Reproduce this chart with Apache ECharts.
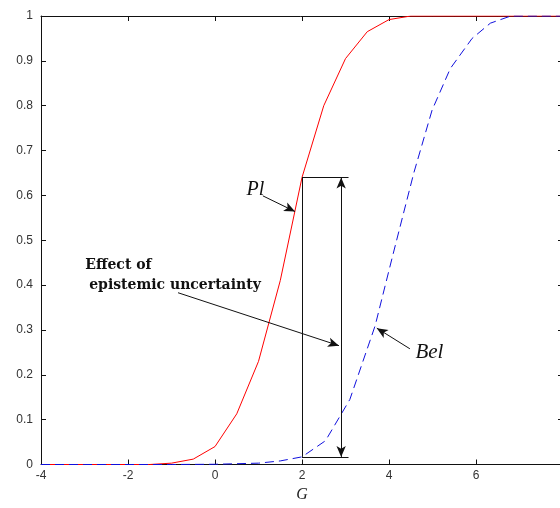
<!DOCTYPE html>
<html>
<head>
<meta charset="utf-8">
<script src="https://cdn.jsdelivr.net/npm/echarts@6/dist/echarts.min.js"></script>
<style>
  html, body { margin: 0; padding: 0; background: #fff; }
  #chart { width: 560px; height: 508px; }
</style>
</head>
<body>
<div id="chart"></div>
<script>
// Plausibility (Pl) curve
const plX = [-4, -3.5, -3, -2.5, -2, -1.5, -1, -0.5, 0, 0.5, 1, 1.5, 2, 2.5, 3, 3.5, 4, 4.5, 5, 5.5, 6, 6.5, 7, 7.5, 8];
const plY = [0, 0, 0, 0, 0, 0, 0.003, 0.012, 0.04, 0.113, 0.23, 0.41, 0.64, 0.80, 0.905, 0.965, 0.992, 1, 1, 1, 1, 1, 1, 1, 1];

// Belief (Bel) curve
const belX = [-4, -3, -2, -1, 0, 1, 1.5, 2, 2.54, 3.1, 3.68, 4.07, 4.57, 4.99, 5.41, 5.91, 6.33, 6.8, 7.5, 8];
const belY = [0, 0, 0, 0, 0.0005, 0.003, 0.008, 0.017, 0.053, 0.145, 0.309, 0.46, 0.65, 0.79, 0.883, 0.95, 0.984, 1, 1, 1];

// Axis ticks
const xTicks = [-4, -2, 0, 2, 4, 6, 8];
const yTicks = [0, 0.1, 0.2, 0.3, 0.4, 0.5, 0.6, 0.7, 0.8, 0.9, 1];

// Uncertainty bracket at G = 2
const gapX = 2;
const gapTop = 0.64;
const gapBottom = 0.017;
const gapArrowX = 2.9;
const gapEndX = 3.07;

// Annotation arrows: [fromX, fromY, toX, toY]
const plArrow = [1.10, 0.599, 1.84, 0.564];
const effectArrow = [-0.85, 0.383, 2.85, 0.265];
const belArrow = [4.48, 0.258, 3.72, 0.304];

const pairs = (xs, ys) => xs.map((x, i) => [x, ys[i]]);

const chart = echarts.init(document.getElementById('chart'), null, { renderer: 'canvas' });

const axisCommon = {
  type: 'value',
  axisLine: { show: true, onZero: false, lineStyle: { color: '#111', width: 1 } },
  axisTick: { show: true, inside: true, length: 5, lineStyle: { color: '#111' } },
  splitLine: { show: false },
  axisLabel: { color: '#333', fontFamily: 'Liberation Sans, Arial, sans-serif', fontSize: 12 }
};

const segment = (a, b, sym0, sym1) => [
  { coord: a, symbol: sym0 },
  { coord: b, symbol: sym1 }
];

chart.setOption({
  animation: false,
  backgroundColor: '#fff',
  grid: { left: 41, top: 16, width: 522, height: 448.5, outerBoundsMode: 'none', containLabel: false },
  xAxis: [
    Object.assign({}, axisCommon, {
      position: 'bottom', min: -4, max: 8, interval: 2,
      axisLabel: Object.assign({}, axisCommon.axisLabel, { margin: 5 }),
      name: 'G', nameLocation: 'middle', nameGap: 22,
      nameTextStyle: { fontFamily: 'Liberation Serif, Times New Roman, serif', fontStyle: 'italic', fontSize: 16, color: '#222' }
    }),
    Object.assign({}, axisCommon, {
      position: 'top', min: -4, max: 8, interval: 2, axisLabel: { show: false }
    })
  ],
  yAxis: [
    Object.assign({}, axisCommon, {
      position: 'left', min: 0, max: 1, interval: 0.1,
      axisLabel: Object.assign({}, axisCommon.axisLabel, {
        margin: 8,
        formatter: v => String(Math.round(v * 10) / 10)
      })
    }),
    Object.assign({}, axisCommon, {
      position: 'right', min: 0, max: 1, interval: 0.1, axisLabel: { show: false }
    })
  ],
  series: [
    {
      name: 'Pl', type: 'line', data: pairs(plX, plY),
      showSymbol: false, symbol: 'none',
      lineStyle: { color: '#ff0000', width: 1 }, z: 3
    },
    {
      name: 'Bel', type: 'line', data: pairs(belX, belY),
      showSymbol: false, symbol: 'none',
      lineStyle: { color: '#1010dd', width: 1, type: [9, 5] }, z: 3
    },
    {
      // bracket and annotation arrows
      name: 'annotations', type: 'line', data: [], silent: true, z: 4,
      markLine: {
        silent: true,
        animation: false,
        symbolSize: [7, 11],
        label: { show: false },
        emphasis: { disabled: true },
        lineStyle: { color: '#111', width: 1, type: 'solid' },
        data: [
          segment([gapX, gapBottom], [gapX, gapTop], 'none', 'none'),
          segment([gapX, gapTop], [gapEndX, gapTop], 'none', 'none'),
          segment([gapX, gapBottom], [gapEndX, gapBottom], 'none', 'none'),
          segment([gapArrowX, gapBottom], [gapArrowX, gapTop], 'arrow', 'arrow'),
          segment([plArrow[0], plArrow[1]], [plArrow[2], plArrow[3]], 'none', 'arrow'),
          segment([effectArrow[0], effectArrow[1]], [effectArrow[2], effectArrow[3]], 'none', 'arrow'),
          segment([belArrow[0], belArrow[1]], [belArrow[2], belArrow[3]], 'none', 'arrow')
        ]
      }
    }
  ]
});

// Text annotations placed at data positions
const px = (x, y) => chart.convertToPixel({ gridIndex: 0 }, [x, y]);
const serif = 'Liberation Serif, Times New Roman, serif';
const boldSerif = 'DejaVu Serif, Liberation Serif, serif';
const textAt = (x, y, text, style) => {
  const p = px(x, y);
  return {
    type: 'text', x: p[0], y: p[1], z: 10,
    style: Object.assign({ text: text, fill: '#111', align: 'center', verticalAlign: 'middle' }, style)
  };
};

chart.setOption({
  graphic: [
    textAt(0.93, 0.612, 'Pl', { font: 'italic 20px ' + serif }),
    textAt(4.93, 0.249, 'Bel', { font: 'italic 21px ' + serif }),
    textAt(-2.22, 0.445, 'Effect of', { font: 'bold 14px ' + boldSerif }),
    textAt(-0.92, 0.400, 'epistemic uncertainty', { font: 'bold 14px ' + boldSerif })
  ]
});
</script>
</body>
</html>
